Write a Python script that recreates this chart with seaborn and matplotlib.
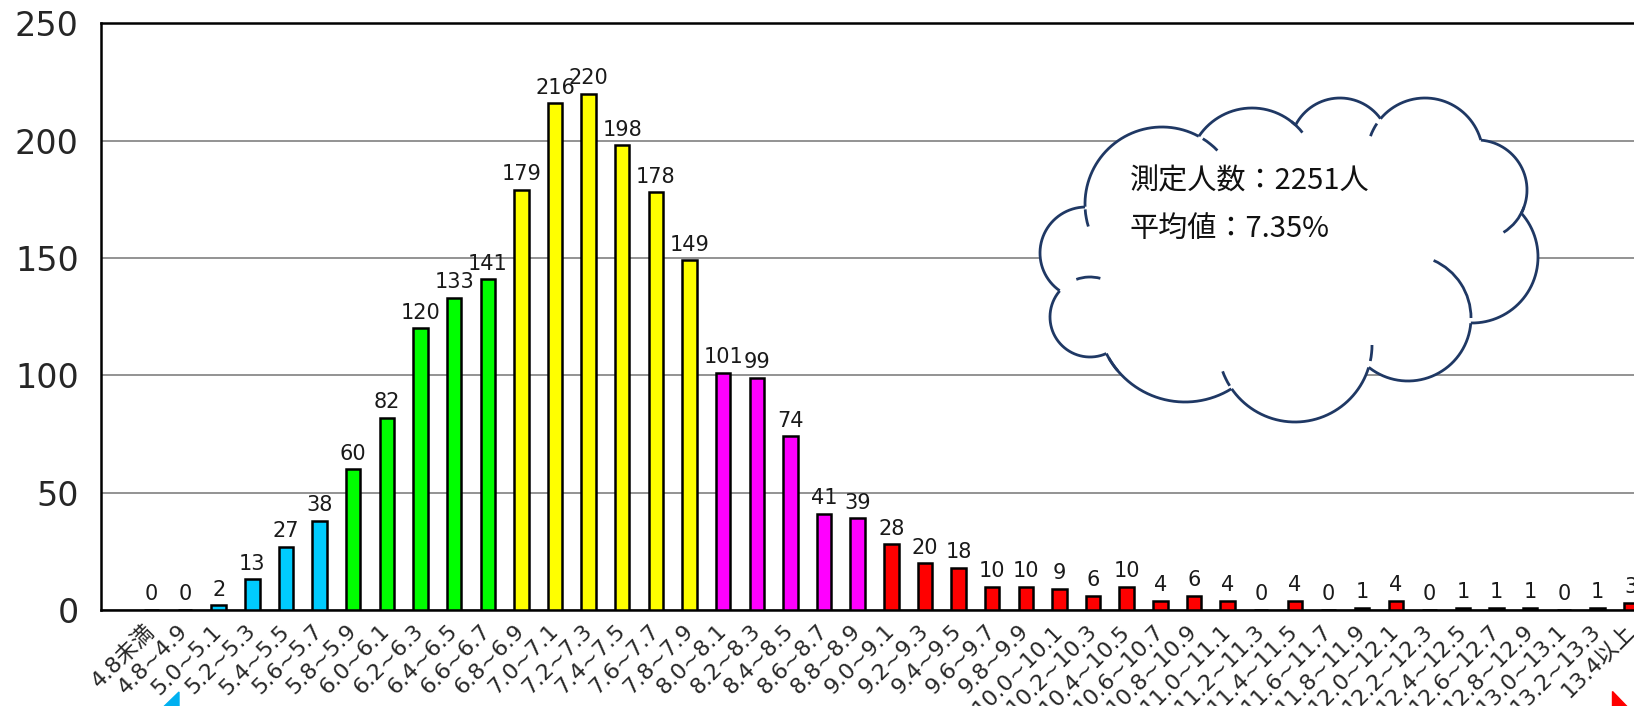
import matplotlib
matplotlib.use("Agg")
import numpy as np
import matplotlib.pyplot as plt
import matplotlib.patches as mpatches
import seaborn as sns

# -----------------------------
# データ (HbA1c 分布)
# -----------------------------
ranges = ["4.8未満"] + [f"{a / 10:.1f}~{(a + 1) / 10:.1f}" for a in range(48, 133, 2)] + ["13.4以上"]
counts = [0, 0, 2, 13, 27, 38, 60, 82, 120, 133, 141, 179, 216, 220, 198, 178, 149,
          101, 99, 74, 41, 39, 28, 20, 18, 10, 10, 9, 6, 10, 4, 6, 4, 0, 4, 0, 1, 4,
          0, 1, 1, 1, 0, 1, 3]
band_sizes = [6, 5, 6, 5, 23]
band_colors = ["#00CCFF", "#00FF00", "#FFFF00", "#FF00FF", "#FF0000"]
y_ticks = [0, 50, 100, 150, 200, 250]
cloud_lines = ["測定人数：2251人", "平均値：7.35%"]

bar_colors = []
for c, n in zip(band_colors, band_sizes):
    bar_colors += [c] * n

sns.set_style("white")
plt.rcParams["font.family"] = ["DejaVu Sans", "Noto Sans CJK JP"]

W, H = 1634, 706
fig = plt.figure(figsize=(W / 100, H / 100), dpi=100)
ax = fig.add_axes([101 / W, 1 - 610 / H, 1580.6 / W, (610 - 23.3) / H])

sns.barplot(x=ranges, y=counts, hue=ranges, palette=bar_colors, legend=False,
            saturation=1, width=0.43, edgecolor="black", linewidth=1.8, ax=ax, zorder=3)

for cont in ax.containers:
    ax.bar_label(cont, padding=4, fontsize=15, color="#1a1a1a")

ax.set_xlim(-1.5, 45.5)
ax.set_ylim(0, 250)
ax.set_yticks(y_ticks)
ax.set_yticklabels([str(v) for v in y_ticks], fontsize=24)
ax.yaxis.grid(True, color="#808080", linewidth=1.2, zorder=0)
ax.set_axisbelow(True)
for s in ax.spines.values():
    s.set_linewidth(1.8)
    s.set_color("black")

ax.set_xticks(range(len(ranges)))
ax.set_xticklabels(ranges, rotation=45, ha="right", va="center",
                   rotation_mode="anchor", fontsize=16)
ax.tick_params(axis="x", which="major", length=0, pad=13)
ax.set_xticks([i - 0.5 for i in range(len(ranges) + 1)], minor=True)
ax.tick_params(axis="x", which="minor", direction="in", length=6, width=1, color="black")
ax.tick_params(axis="y", direction="in", length=8, width=1, pad=16, color="black")
ax.set_xlabel("")
ax.set_ylabel("")

# -----------------------------
# 雲の吹き出し (ピクセル座標)
# -----------------------------
ov = fig.add_axes([0, 0, 1, 1], zorder=5)
ov.set_xlim(0, W)
ov.set_ylim(H, 0)
ov.axis("off")

navy = "#1F3864"
bumps = [(1162, 204, 77), (1252, 172, 64), (1340, 148, 50), (1425, 156, 58),
         (1477, 190, 50), (1472, 257, 66), (1408, 318, 63), (1295, 345, 77),
         (1185, 314, 88), (1090, 317, 40), (1086, 253, 46)]
core = [(1290, 250, 110), (1180, 260, 90), (1400, 230, 80)]
shapes = bumps + core
for cx, cy, r in shapes:
    ov.add_patch(mpatches.Circle((cx, cy), r, facecolor="white", edgecolor="none"))

# 外周: 他の円に含まれない円周部分だけを描く
t = np.linspace(0, 2 * np.pi, 1441)
for i, (cx, cy, r) in enumerate(bumps):
    px = cx + r * np.cos(t)
    py = cy + r * np.sin(t)
    keep = np.ones_like(t, dtype=bool)
    for j, (ox, oy, orr) in enumerate(shapes):
        if j != i:
            keep &= np.hypot(px - ox, py - oy) > orr
    seg = np.where(keep, 1.0, np.nan)
    ov.plot(px * seg, py * seg, color=navy, lw=2, solid_capstyle="butt")

inner_ticks = [(0, 163, 176), (0, -58, -44), (1, -52, -38), (4, 20, 58), (6, -66, 0),
               (7, 0, 12), (7, 148, 160), (8, 140, 150), (9, -110, -75), (3, 200, 214)]
for i, t1, t2 in inner_ticks:
    cx, cy, r = bumps[i]
    ov.add_patch(mpatches.Arc((cx, cy), 2 * r, 2 * r, theta1=t1, theta2=t2,
                              edgecolor=navy, lw=2))

for k, line in enumerate(cloud_lines):
    ov.text(1130, 181 + 48 * k, line, fontsize=21, va="center", ha="left",
            family=["Noto Sans CJK JP", "DejaVu Sans"], color="#111111")

# 矢印の切れ端
ov.add_patch(mpatches.Polygon([(150, 720), (179, 692), (179, 720)], color="#00B0F0"))
ov.add_patch(mpatches.Polygon([(1612, 691), (1612, 720), (1640, 720)], color="#FF0000"))

fig.savefig("out.png", dpi=100)
